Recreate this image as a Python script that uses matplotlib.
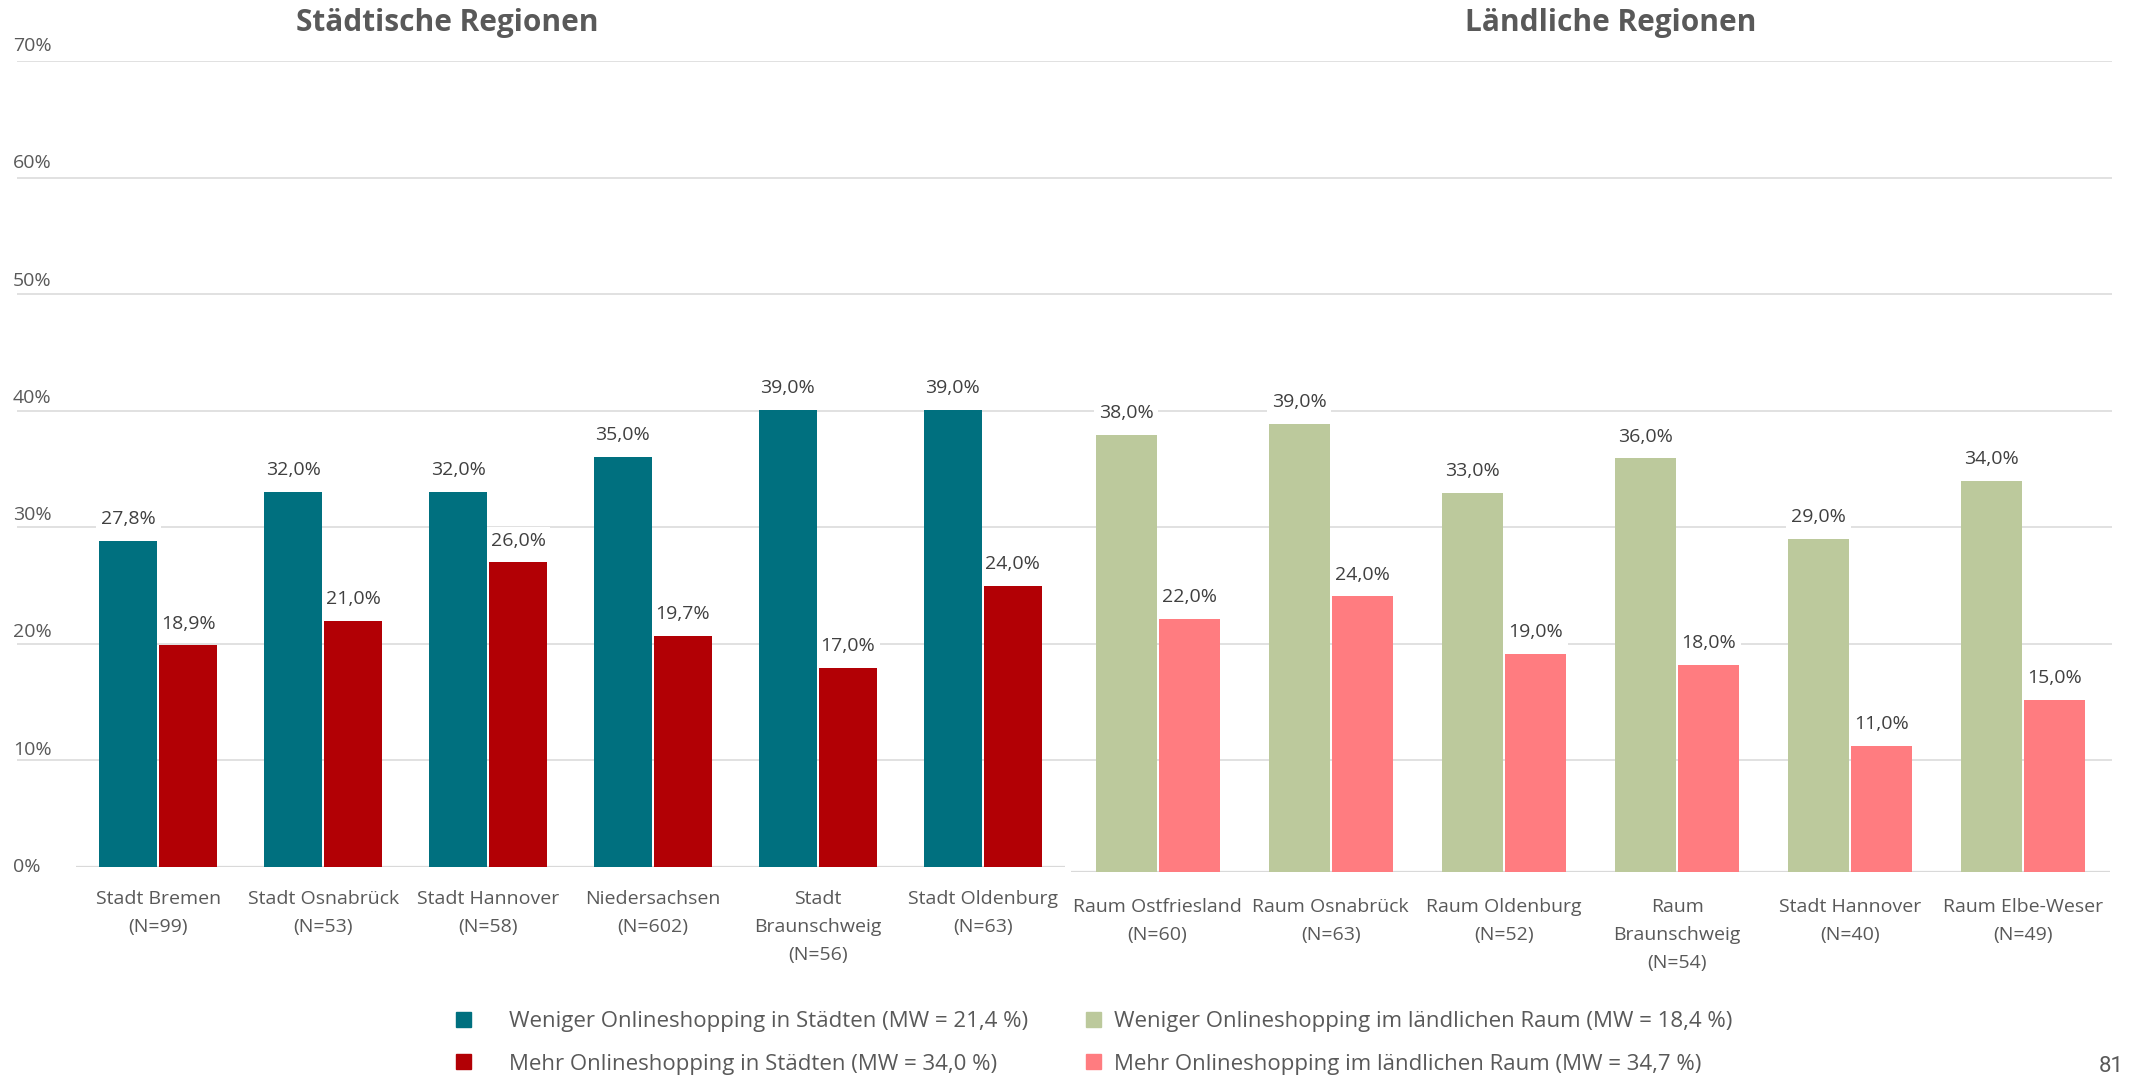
import matplotlib
matplotlib.use("Agg")
import matplotlib.pyplot as plt
import matplotlib.transforms as mtransforms
from matplotlib.patches import Patch
import numpy as np

plt.rcParams['font.family'] = ['Open Sans', 'DejaVu Sans']

# ---- data -------------------------------------------------------------
urban_regions = ["Stadt Bremen\n(N=99)", "Stadt Osnabrück\n(N=53)", "Stadt Hannover\n(N=58)",
                 "Niedersachsen\n(N=602)", "Stadt\nBraunschweig\n(N=56)", "Stadt Oldenburg\n(N=63)"]
urban_less = [27.8, 32.0, 32.0, 35.0, 39.0, 39.0]
urban_more = [18.9, 21.0, 26.0, 19.7, 17.0, 24.0]

rural_regions = ["Raum Ostfriesland\n(N=60)", "Raum Osnabrück\n(N=63)", "Raum Oldenburg\n(N=52)",
                 "Raum\nBraunschweig\n(N=54)", "Stadt Hannover\n(N=40)", "Raum Elbe-Weser\n(N=49)"]
rural_less = [38.0, 39.0, 33.0, 36.0, 29.0, 34.0]
rural_more = [22.0, 24.0, 19.0, 18.0, 11.0, 15.0]

y_ticks = [0, 10, 20, 30, 40, 50, 60, 70]
y_tick_labels = ["0%", "10%", "20%", "30%", "40%", "50%", "60%", "70%"]

urban_legend = ["Weniger Onlineshopping in Städten (MW = 21,4 %)",
                "Mehr Onlineshopping in Städten (MW = 34,0 %)"]
rural_legend = ["Weniger Onlineshopping im ländlichen Raum (MW = 18,4 %)",
                "Mehr Onlineshopping im ländlichen Raum (MW = 34,7 %)"]

C_TEAL = "#00707F"
C_RED = "#B20005"
C_GREEN = "#BCC99C"
C_PINK = "#FF7C80"
C_TEXT = "#595959"
C_VAL = "#404040"
C_GRID = "#D9D9D9"

W, H = 2136, 1076
fig = plt.figure(figsize=(W / 100, H / 100), dpi=100)
fig.patch.set_facecolor("white")


def px_rect(x0, y0, x1, y1):
    return [x0 / W, 1 - y1 / H, (x1 - x0) / W, (y1 - y0) / H]


# gridline layer spanning both panels
ax_grid = fig.add_axes(px_rect(17, 61, 2112, 876.5))
ax_grid.set_xlim(0, 1)
ax_grid.set_ylim(0, 70)
for v in y_ticks[1:]:
    ax_grid.axhline(v, color=C_GRID, lw=1.1, zorder=0)
ax_grid.axis("off")

# bar panels
ax_l = fig.add_axes(px_rect(76, 46, 1065, 867))
ax_r = fig.add_axes(px_rect(1071, 67, 2110, 872))

bar_w = 0.352
off = 0.182


def draw_panel(ax, cats, less, more, c1, c2, pad):
    x = np.arange(len(cats))
    ax.set_xlim(-0.5, len(cats) - 0.5)
    ax.set_ylim(0, 70)
    ax.patch.set_alpha(0)
    b1 = ax.bar(x - off, less, bar_w, color=c1, zorder=3)
    b2 = ax.bar(x + off, more, bar_w, color=c2, zorder=3)
    for bars, vals in ((b1, less), (b2, more)):
        for rect, v in zip(bars, vals):
            ax.annotate(f"{v:.1f}".replace(".", ",") + "%",
                        (rect.get_x() + rect.get_width() / 2, v),
                        xytext=(0, 9), textcoords="offset points",
                        ha="center", va="bottom", fontsize=14, color=C_VAL,
                        bbox=dict(boxstyle="square,pad=0.25", fc="white", ec="none"),
                        zorder=2)
    ax.axhline(0, color=C_GRID, lw=1.6, zorder=1)
    for s in ax.spines.values():
        s.set_visible(False)
    ax.set_yticks([])
    ax.set_xticks(x)
    ax.set_xticklabels(cats, fontsize=14, color=C_TEXT, linespacing=1.72, va="top")
    ax.tick_params(axis="x", length=0, pad=pad)
    return b1, b2


h1, h2 = draw_panel(ax_l, urban_regions, urban_less, urban_more, C_TEAL, C_RED, 16.5)
h3, h4 = draw_panel(ax_r, rural_regions, rural_less, rural_more, C_GREEN, C_PINK, 18.5)

# y tick labels at the far left
trans = mtransforms.blended_transform_factory(fig.transFigure, ax_l.transData)
for v, lab in zip(y_ticks, y_tick_labels):
    fig.text(13 / W, v, lab, transform=trans, ha="left", va="center",
             fontsize=14, color=C_TEXT)

# panel titles
fig.text(447 / W, 1 - 23 / H, "Städtische Regionen", ha="center", va="center",
         fontsize=21.5, fontweight="bold", color=C_TEXT)
fig.text(1611 / W, 1 - 23 / H, "Ländliche Regionen", ha="center", va="center",
         fontsize=21.5, fontweight="bold", color=C_TEXT)

# legends: one column per region type
common = dict(frameon=False, fontsize=16, labelcolor=C_TEXT,
              handlelength=0.68, handleheight=0.68, labelspacing=0.95,
              loc="center left", borderaxespad=0, borderpad=0)
leg1 = fig.legend([Patch(color=C_TEAL), Patch(color=C_RED)], urban_legend,
                  handletextpad=1.7, bbox_to_anchor=(456 / W, 1 - 1043 / H), **common)
leg2 = fig.legend([Patch(color=C_GREEN), Patch(color=C_PINK)], rural_legend,
                  handletextpad=0.6, bbox_to_anchor=(1086 / W, 1 - 1043 / H), **common)

# page number
fig.text(2111 / W, 1 - 1066 / H, "81", ha="center", va="center",
         fontsize=16, color=C_TEXT, family=["Roboto", "DejaVu Sans"])

fig.savefig("out.png", dpi=100, facecolor="white")
